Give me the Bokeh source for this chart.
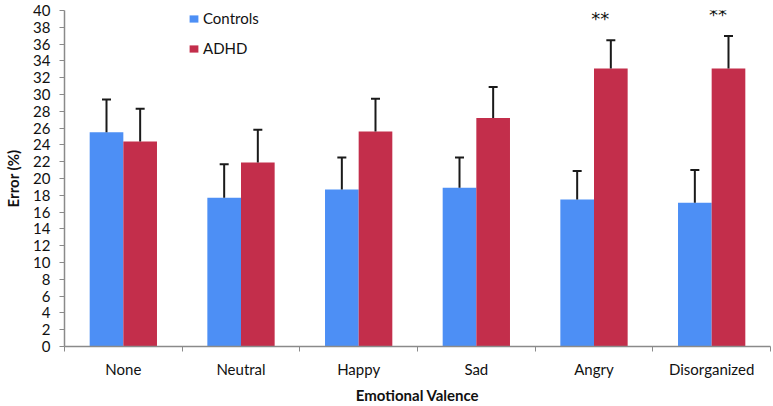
import numpy as np
from bokeh.plotting import figure
from bokeh.models import (ColumnDataSource, Range1d, FixedTicker, Whisker, TeeHead,
                          Legend, LegendItem, LinearAxis)
from bokeh.core.properties import value
from bokeh.embed import file_html
from bokeh.resources import INLINE

categories = ["None", "Neutral", "Happy", "Sad", "Angry", "Disorganized"]
controls = [25.5, 17.7, 18.7, 18.9, 17.5, 17.1]
controls_err = [3.9, 4.0, 3.8, 3.6, 3.4, 3.9]
adhd = [24.4, 21.9, 25.6, 27.2, 33.1, 33.1]
adhd_err = [3.9, 3.9, 3.9, 3.7, 3.35, 3.85]
significance = ["", "", "", "", "**", "**"]
y_ticks = list(range(0, 41, 2))

BLUE = "#4d8ff5"
RED = "#c32e4b"
FONT = "Lato"
AXIS_COLOR = "#8a8a8a"
TEXT_COLOR = "#111111"

n = len(categories)
centers = np.arange(n) + 0.5
bw = 0.286
off = 0.143

src_c = ColumnDataSource(dict(x=centers - off, top=controls,
                              upper=np.array(controls) + np.array(controls_err)))
src_a = ColumnDataSource(dict(x=centers + off, top=adhd,
                              upper=np.array(adhd) + np.array(adhd_err)))

p = figure(width=773, height=406, output_backend="svg", toolbar_location=None,
           x_range=Range1d(0, n), y_range=Range1d(0, 40),
           min_border_left=64, min_border_right=3, min_border_top=10, min_border_bottom=60,
           x_axis_type=None, y_axis_type=None)
p.outline_line_color = None
p.xgrid.visible = False
p.ygrid.visible = False

r_c = p.vbar(x="x", top="top", width=bw, bottom=0, source=src_c, fill_color=BLUE, line_color=None)
r_a = p.vbar(x="x", top="top", width=bw, bottom=0, source=src_a, fill_color=RED, line_color=None)

for src in (src_c, src_a):
    w = Whisker(base="x", lower="top", upper="upper", source=src, dimension="height",
                line_color="#1a1a1a", line_width=2,
                upper_head=TeeHead(size=9, line_color="#1a1a1a", line_width=2),
                lower_head=None, level="overlay")
    p.add_layout(w)

star_src = ColumnDataSource(dict(x=centers + off - 0.09,
                                 y=np.array(adhd) + np.array(adhd_err) + 2.6,
                                 t=significance))
p.text(x="x", y="y", text="t", source=star_src, text_font=value("DejaVu Sans"),
       text_font_size="18px", text_align="center", text_baseline="middle", text_color=TEXT_COLOR)

# x axis: boundary ticks as minor ticks, labels at centers
xaxis = LinearAxis(ticker=FixedTicker(ticks=list(centers), minor_ticks=list(range(n + 1))))
xaxis.major_label_overrides = {float(c): lab for c, lab in zip(centers, categories)}
xaxis.major_tick_line_color = None
xaxis.minor_tick_line_color = AXIS_COLOR
xaxis.minor_tick_out = 5
xaxis.minor_tick_in = 0
xaxis.axis_line_color = AXIS_COLOR
xaxis.axis_line_width = 1.5
xaxis.major_label_text_font = FONT
xaxis.major_label_text_font_size = "15px"
xaxis.major_label_text_color = TEXT_COLOR
xaxis.major_label_standoff = 7
xaxis.axis_label = "Emotional Valence"
xaxis.axis_label_text_font = FONT
xaxis.axis_label_text_font_style = "bold"
xaxis.axis_label_text_font_size = "15px"
xaxis.axis_label_text_color = TEXT_COLOR
xaxis.axis_label_standoff = 5
p.add_layout(xaxis, "below")

yaxis = LinearAxis(ticker=FixedTicker(ticks=y_ticks, minor_ticks=[]))
yaxis.axis_line_color = AXIS_COLOR
yaxis.axis_line_width = 1.5
yaxis.major_tick_line_color = AXIS_COLOR
yaxis.major_tick_out = 5
yaxis.major_tick_in = 0
yaxis.major_label_text_font = FONT
yaxis.major_label_text_font_size = "15px"
yaxis.major_label_text_color = TEXT_COLOR
yaxis.major_label_standoff = 9
yaxis.axis_label = "Error (%)"
yaxis.axis_label_text_font = FONT
yaxis.axis_label_text_font_style = "bold"
yaxis.axis_label_text_font_size = "15px"
yaxis.axis_label_text_color = TEXT_COLOR
yaxis.axis_label_standoff = 8
p.add_layout(yaxis, "left")

legend = Legend(items=[LegendItem(label="Controls", renderers=[r_c]),
                       LegendItem(label="ADHD", renderers=[r_a])],
                location=(124, 289), orientation="vertical",
                glyph_width=11, glyph_height=9, label_height=15, spacing=12,
                label_standoff=4, padding=0, margin=0,
                border_line_color=None, background_fill_alpha=0,
                label_text_font=FONT, label_text_font_size="15px", label_text_color=TEXT_COLOR)
p.add_layout(legend, "center")

open("out.html", "w").write(file_html(p, INLINE))
